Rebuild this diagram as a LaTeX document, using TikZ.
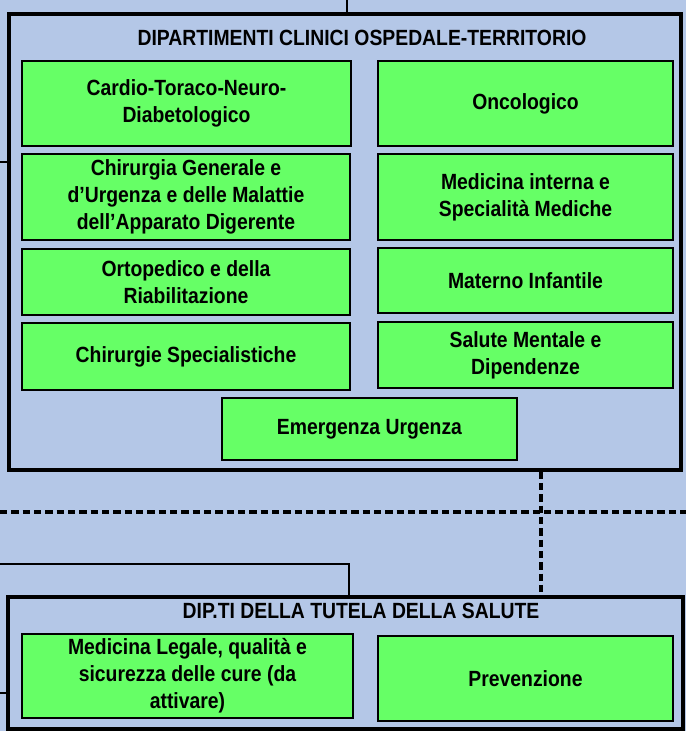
\documentclass[tikz,border=0pt]{standalone}
\usepackage{fontspec}
\setmainfont[FakeStretch=0.88]{Liberation Sans}
\definecolor{bgblue}{RGB}{180,199,231}
\definecolor{boxgreen}{RGB}{102,255,102}
\begin{document}
\begin{tikzpicture}[x=0.75pt,y=-0.75pt,
  gbox/.style 2 args={draw=black,line width=1.6pt,fill=boxgreen,inner sep=0pt,
    minimum width=#1*0.75pt,minimum height=#2*0.75pt,align=center,
    font=\fontsize{16.5}{20.2}\selectfont\bfseries},
  obox/.style 2 args={draw=black,line width=2.3pt,inner sep=0pt,
    minimum width=#1*0.75pt,minimum height=#2*0.75pt},
  ttl/.style={font=\fontsize{16.5}{18}\selectfont\bfseries,inner sep=0pt},
  heavy/.style={line width=1.6pt},
  thin/.style={line width=0.8pt},
  dsh/.style={line width=2.4pt,dash pattern=on 5.5pt off 3pt}]
\fill[bgblue] (0,0) rectangle (686,731);
\useasboundingbox (0,0) rectangle (686,731);
% outer boxes
\node[obox={672}{456}] (o1) at (345,242) {};
\node[obox={675}{132}] (o2) at (345.5,663) {};
\node[ttl] (t1) at (362,38) {DIPARTIMENTI CLINICI OSPEDALE-TERRITORIO};
\node[ttl] (t2) at (361,611) {DIP.TI DELLA TUTELA DELLA SALUTE};
% green boxes
\node[gbox={329}{85}] (b1) at (186.5,103.5) {Cardio-Toraco-Neuro-\\Diabetologico};
\node[gbox={295}{85}] (b2) at (525.5,103.5) {Oncologico};
\node[gbox={328}{86}] (b3) at (186,197) {Chirurgia Generale e\\d’Urgenza e delle Malattie\\dell’Apparato Digerente};
\node[gbox={295}{86}] (b4) at (525.5,197) {Medicina interna e\\Specialità Mediche};
\node[gbox={328}{66}] (b5) at (186,282) {Ortopedico e della\\Riabilitazione};
\node[gbox={295}{65}] (b6) at (525.5,280.5) {Materno Infantile};
\node[gbox={328}{67}] (b7) at (186,356.5) {Chirurgie Specialistiche};
\node[gbox={295}{66}] (b8) at (525.5,355) {Salute Mentale e\\Dipendenze};
\node[gbox={295}{62}] (b9) at (369.5,429) {Emergenza Urgenza};
\node[gbox={331}{84}] (b10) at (187.5,676) {Medicina Legale, qualità e\\sicurezza delle cure (da\\attivare)};
\node[gbox={295}{85}] (b11) at (525.5,678.5) {Prevenzione};
% connectors
\coordinate (top) at (347,0);
\draw[heavy] (top) -- (top |- o1.north);
\coordinate (l1) at (0,162);
\draw[heavy] (l1) -- (l1 -| o1.west);
\coordinate (l2) at (0,693);
\draw[heavy] (l2) -- (l2 -| o2.west);
\coordinate (dl) at (0,512);
\coordinate (dr) at (686,512);
\draw[dsh] (dl) -- (dr);
\coordinate (dv) at (541,512);
\draw[dsh] (dv |- o1.south) -- (dv |- o2.north);
\coordinate (tl) at (0,564);
\coordinate (tc) at (349,564);
\draw[thin] (tl) -- (tc) -- (tc |- o2.north);
\end{tikzpicture}
\end{document}
